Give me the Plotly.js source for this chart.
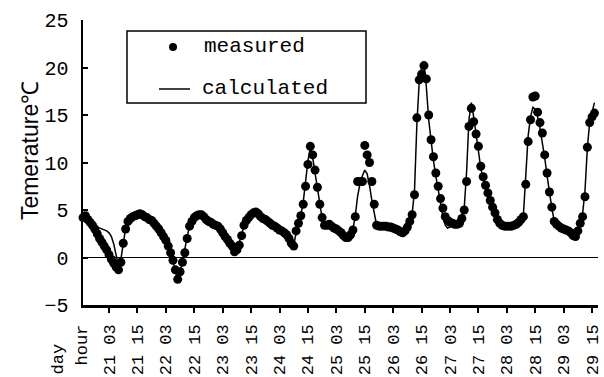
<!DOCTYPE html>
<html>
<head>
<meta charset="utf-8">
<script src="https://cdn.plot.ly/plotly-3.0.1.min.js"></script>
<style>html,body{margin:0;padding:0;background:#fff;}#chart{width:604px;height:377px;}</style>
</head>
<body>
<div id="chart"></div>
<script>
// Hours counted from day 21 00:00; first sample is day 20 16:00 (hour -8), hourly samples
const startHour = -8;

const measured = [
  4.2, 4.4, 4.0, 3.7, 3.4, 3.0, 2.5, 2.0,
  1.6, 1.2, 0.8, 0.3, -0.2, -0.6, -1.0, -1.3, -0.5, 1.5, 3.0, 3.8, 4.1, 4.3, 4.4, 4.5, 4.6, 4.5, 4.3, 4.2, 4.0, 3.9, 3.6, 3.3,
  3.0, 2.6, 2.2, 1.8, 1.2, 0.5, -0.3, -1.3, -2.3, -1.5, -0.5, 0.5, 2.0, 3.3, 3.8, 4.2, 4.4, 4.5, 4.5, 4.3, 4.0, 3.8, 3.7, 3.5,
  3.4, 3.3, 3.0, 2.6, 2.2, 1.9, 1.5, 1.2, 0.6, 0.8, 1.3, 2.3, 3.4, 3.9, 4.2, 4.5, 4.7, 4.8, 4.6, 4.3, 4.1, 4.0, 3.8, 3.6,
  3.4, 3.3, 3.1, 2.9, 2.8, 2.6, 2.4, 2.0, 1.5, 1.2, 2.8, 3.6, 4.4, 5.6, 7.5, 9.8, 11.7, 10.8, 9.2, 7.4, 5.6, 4.2, 3.4, 3.4,
  3.5, 3.3, 3.1, 3.0, 2.8, 2.6, 2.3, 2.1, 2.1, 2.4, 2.9, 4.3, 8.0, 8.0, 8.0, 11.8, 10.8, 10.0, 8.0, 5.6, 3.4, 3.3, 3.3, 3.3,
  3.3, 3.2, 3.2, 3.1, 3.0, 2.9, 2.7, 2.6, 2.8, 3.2, 3.8, 4.5, 6.6, 14.7, 18.7, 19.3, 20.2, 18.8, 15.0, 12.4, 10.6, 8.9, 7.5, 6.2,
  5.2, 4.3, 3.9, 3.7, 3.6, 3.5, 3.5, 3.6, 4.1, 5.0, 8.0, 13.8, 15.7, 14.3, 13.0, 11.7, 9.6, 8.5, 7.6, 6.8, 6.0, 5.3, 4.7, 4.0,
  3.6, 3.4, 3.3, 3.3, 3.3, 3.3, 3.4, 3.5, 3.7, 4.0, 4.3, 7.7, 12.2, 14.5, 16.9, 17.0, 15.3, 14.2, 13.1, 10.8, 8.9, 6.9, 5.3, 3.8,
  3.5, 3.3, 3.1, 3.0, 2.9, 2.8, 2.6, 2.3, 2.2, 2.8, 3.6, 4.3, 6.4, 11.6, 14.2, 14.8, 15.2
];

const calculated = [
  4.3, 4.2, 4.0, 3.7, 3.5, 3.3, 3.2, 3.1,
  3.0, 2.9, 2.8, 2.6, 2.2, 1.4, 0.2, -0.9, -0.2, 1.6, 3.1, 3.9, 4.2, 4.4, 4.5, 4.6, 4.6, 4.5, 4.3, 4.1, 4.0, 3.8, 3.6, 3.3,
  3.0, 2.6, 2.2, 1.7, 1.1, 0.4, -0.4, -1.4, -2.6, -1.6, -0.4, 0.8, 2.2, 3.4, 3.9, 4.2, 4.4, 4.5, 4.4, 4.2, 4.0, 3.8, 3.6, 3.5,
  3.3, 3.2, 2.9, 2.6, 2.3, 2.0, 1.8, 1.5, 1.0, 0.8, 1.6, 2.6, 3.3, 3.8, 4.2, 4.5, 4.7, 4.7, 4.5, 4.3, 4.1, 3.9, 3.7, 3.5,
  3.4, 3.2, 3.1, 2.9, 2.7, 2.5, 2.3, 2.0, 1.6, 1.3, 2.6, 3.5, 4.5, 5.8, 7.8, 10.2, 11.5, 10.5, 8.9, 7.2, 5.4, 4.1, 3.4, 3.3,
  3.3, 3.2, 3.1, 2.9, 2.7, 2.5, 2.3, 2.1, 2.2, 2.5, 3.0, 4.4, 6.5, 7.8, 8.6, 9.2, 8.8, 7.6, 6.0, 4.5, 3.4, 3.3, 3.3, 3.3,
  3.3, 3.2, 3.2, 3.1, 3.0, 2.9, 2.7, 2.6, 2.8, 3.2, 3.8, 4.6, 7.0, 14.0, 18.5, 20.0, 20.5, 18.0, 14.5, 12.0, 10.2, 8.6, 7.0, 5.6,
  4.3, 3.4, 3.1, 3.2, 3.3, 3.4, 3.5, 3.7, 4.3, 5.2, 9.0, 14.5, 16.3, 14.8, 12.8, 11.2, 9.4, 8.2, 7.4, 6.6, 5.8, 5.1, 4.4, 3.8,
  3.5, 3.4, 3.3, 3.3, 3.3, 3.3, 3.4, 3.5, 3.7, 4.0, 4.5, 8.5, 12.8, 14.8, 15.8, 15.6, 14.8, 13.6, 12.2, 10.5, 8.6, 6.8, 5.2, 3.9,
  3.5, 3.3, 3.1, 3.0, 2.9, 2.8, 2.6, 2.4, 2.3, 2.9, 3.7, 4.6, 7.0, 11.5, 14.3, 15.3, 16.3
];

const xTickHours = [3, 15, 27, 39, 51, 63, 75, 87, 99, 111, 123, 135, 147, 159, 171, 183, 195, 207];
const xTickLabels = ["21 03", "21 15", "22 03", "22 15", "23 03", "23 15", "24 03", "24 15", "25 03",
                     "25 15", "26 03", "26 15", "27 03", "27 15", "28 03", "28 15", "29 03", "29 15"];
const yTickValues = [-5, 0, 5, 10, 15, 20, 25];
const seriesNames = ["measured", "calculated"];
const yTitle = "Temerature℃";

const xs = measured.map((_, i) => startHour + i);
const xsCalc = calculated.map((_, i) => startHour + i);

const monoFont = "Liberation Mono, DejaVu Sans Mono, monospace";

const traces = [
  {
    x: xs, y: measured, name: seriesNames[0], type: "scatter", mode: "markers",
    marker: {color: "#000", size: 9}, cliponaxis: false, showlegend: false
  },
  {
    x: xsCalc, y: calculated, name: seriesNames[1], type: "scatter", mode: "lines",
    line: {color: "#000", width: 1.5}, cliponaxis: false, showlegend: false
  }
];

const layout = {
  width: 604, height: 377,
  margin: {l: 83, r: 6, t: 20, b: 72, pad: 0},
  paper_bgcolor: "#fff", plot_bgcolor: "#fff",
  showlegend: false,
  xaxis: {
    range: [-8, 209.5], showgrid: false, zeroline: false,
    showline: true, linecolor: "#000", linewidth: 2.5,
    ticks: "outside", ticklen: 5, tickwidth: 2, tickcolor: "#000",
    tickmode: "array", tickvals: xTickHours, ticktext: xTickLabels, tickangle: -90,
    ticklabelstandoff: 5,
    tickfont: {family: monoFont, size: 17, color: "#000"}
  },
  yaxis: {
    range: [-5, 25], showgrid: false,
    zeroline: true, zerolinecolor: "#000", zerolinewidth: 1,
    showline: true, linecolor: "#000", linewidth: 2.5,
    ticks: "inside", ticklen: 5, tickwidth: 2, tickcolor: "#000",
    tickmode: "array", tickvals: yTickValues,
    ticklabelstandoff: 8,
    tickfont: {family: monoFont, size: 20, color: "#000"}
  },
  shapes: [
    {type: "rect", xref: "paper", yref: "paper", x0: 0.0854, x1: 0.5495, y0: 0.7088, y1: 0.9614,
     line: {color: "#000", width: 1.5}, fillcolor: "#fff", layer: "above"},
    {type: "circle", xref: "paper", yref: "paper", xsizemode: "pixel", ysizemode: "pixel",
     xanchor: 0.1748, yanchor: 0.9053, x0: -4, x1: 4, y0: -4, y1: 4,
     fillcolor: "#000", line: {color: "#000", width: 0}, layer: "above"},
    {type: "line", xref: "paper", yref: "paper", x0: 0.1476, x1: 0.2078, y0: 0.7579, y1: 0.7579,
     line: {color: "#000", width: 1.5}, layer: "above"}
  ],
  annotations: [
    {text: seriesNames[0], xref: "paper", yref: "paper", x: 0.2311, y: 0.9053, xanchor: "left", yanchor: "middle",
     showarrow: false, font: {family: monoFont, size: 21, color: "#000"}},
    {text: seriesNames[1], xref: "paper", yref: "paper", x: 0.2272, y: 0.7579, xanchor: "left", yanchor: "middle",
     showarrow: false, font: {family: monoFont, size: 21, color: "#000"}},
    {text: yTitle, xref: "paper", yref: "paper", x: 0, xshift: -53, y: 0.540, xanchor: "center", yanchor: "middle",
     textangle: -90, showarrow: false, font: {family: "Liberation Sans, Arial, sans-serif", size: 23, color: "#000"}},
    {text: "hour", xref: "paper", yref: "paper", x: 0, y: -0.0632, xanchor: "center", yanchor: "top",
     textangle: -90, showarrow: false, font: {family: monoFont, size: 17, color: "#000"}},
    {text: "day", xref: "paper", yref: "paper", x: 0, xshift: -25, y: -0.1298, xanchor: "center", yanchor: "top",
     textangle: -90, showarrow: false, font: {family: monoFont, size: 17, color: "#000"}}
  ]
};

Plotly.newPlot("chart", traces, layout, {staticPlot: true, displayModeBar: false});
</script>
</body>
</html>
